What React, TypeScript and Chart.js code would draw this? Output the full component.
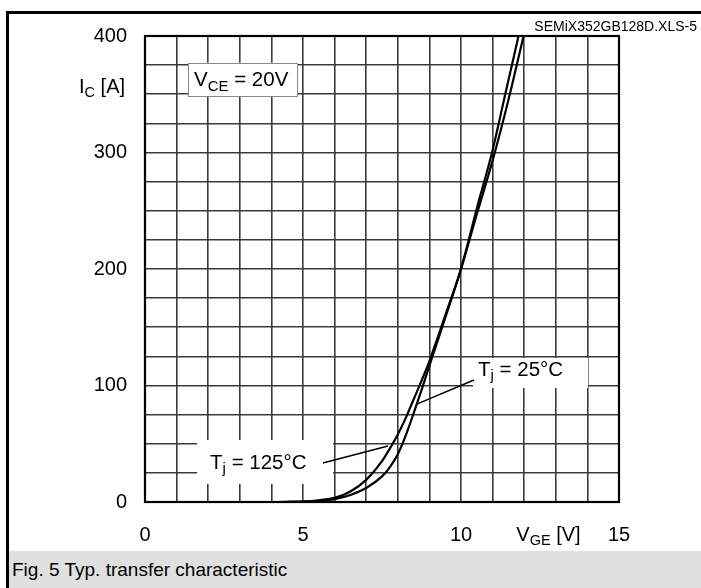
import React, { useEffect, useRef } from "react";
import { Chart, registerables } from "chart.js";

Chart.register(...registerables);

// ---- data ----
const vge25 = [4.4, 5.0, 5.5, 6.0, 6.5, 7.0, 7.5, 7.75, 8.0, 8.25, 8.5, 8.75, 9.0, 9.5, 10.0, 10.5, 11.0, 11.4, 11.82];
const ic25 = [0, 0.3, 1, 2.5, 6, 12, 22, 30, 41, 57, 76, 96, 117, 158, 200, 252, 302, 350, 400];
const vge125 = [4.2, 5.0, 5.5, 6.0, 6.5, 7.0, 7.5, 7.75, 8.0, 8.25, 8.5, 8.75, 9.0, 9.5, 10.0, 10.5, 11.0, 11.5, 11.98];
const ic125 = [0, 0.5, 1.5, 3.5, 9, 19, 35, 46, 58, 72, 88, 104, 121, 160, 200, 247, 293, 345, 400];
const xTickLabels = [0, 5, 10, 15];
const yTickLabels = [0, 100, 200, 300, 400];
const xRange = [0, 15];
const yRange = [0, 400];

const FONT = "'Liberation Sans', Arial, Helvetica, sans-serif";

type Part = { t: string; sub?: boolean };

const annotations = [
  {
    box: [1.36, 4.81, 348.5, 377],
    boxBorder: true,
    text: [{ t: "V" }, { t: "CE", sub: true }, { t: " = 20V" }] as Part[],
    textAt: [1.55, 362],
    leader: null as null | number[],
  },
  {
    box: [10.38, 14.02, 97.9, 123.6],
    boxBorder: false,
    text: [{ t: "T" }, { t: "j", sub: true }, { t: " = 25°C" }] as Part[],
    textAt: [10.54, 113.3],
    leader: [10.41, 104.7, 8.6, 84],
  },
  {
    box: [1.65, 5.95, 15.5, 53.2],
    boxBorder: false,
    text: [{ t: "T" }, { t: "j", sub: true }, { t: " = 125°C" }] as Part[],
    textAt: [2.06, 33.5],
    leader: [5.63, 33.5, 7.69, 48],
  },
];

function drawParts(ctx: CanvasRenderingContext2D, parts: Part[], x: number, y: number, size: number, subSize: number) {
  let cx = x;
  ctx.textAlign = "left";
  ctx.textBaseline = "middle";
  ctx.fillStyle = "#000";
  for (const p of parts) {
    ctx.font = `${p.sub ? subSize : size}px ${FONT}`;
    ctx.fillText(p.t, cx, p.sub ? y + size * 0.3 : y);
    cx += ctx.measureText(p.t).width;
  }
}

const annotationPlugin = {
  id: "annots",
  beforeDatasetsDraw(chart: any) {
    const ctx: CanvasRenderingContext2D = chart.ctx;
    const xs = chart.scales.x;
    const ys = chart.scales.y;
    ctx.save();
    for (const a of annotations) {
      const x0 = xs.getPixelForValue(a.box[0]);
      const x1 = xs.getPixelForValue(a.box[1]);
      const y0 = ys.getPixelForValue(a.box[3]);
      const y1 = ys.getPixelForValue(a.box[2]);
      ctx.fillStyle = "#fff";
      ctx.fillRect(x0, y0, x1 - x0, y1 - y0);
      if (a.boxBorder) {
        ctx.strokeStyle = "#8a8a8a";
        ctx.lineWidth = 1;
        ctx.strokeRect(Math.round(x0) + 0.5, Math.round(y0) + 0.5, Math.round(x1 - x0), Math.round(y1 - y0));
      }
      drawParts(ctx, a.text, xs.getPixelForValue(a.textAt[0]), ys.getPixelForValue(a.textAt[1]), 20.5, 15);
      if (a.leader) {
        ctx.strokeStyle = "#000";
        ctx.lineWidth = 1.5;
        ctx.beginPath();
        ctx.moveTo(xs.getPixelForValue(a.leader[0]), ys.getPixelForValue(a.leader[1]));
        ctx.lineTo(xs.getPixelForValue(a.leader[2]), ys.getPixelForValue(a.leader[3]));
        ctx.stroke();
      }
    }
    // axis titles
    drawParts(ctx, [{ t: "I" }, { t: "C", sub: true }, { t: " [A]" }], xs.left - 66, ys.getPixelForValue(356), 20, 14.5);
    drawParts(ctx, [{ t: "V" }, { t: "GE", sub: true }, { t: " [V]" }], xs.getPixelForValue(11.75), ys.bottom + 33, 20, 14.5);
    ctx.restore();
  },
  afterDraw(chart: any) {
    const { ctx, chartArea } = chart;
    ctx.save();
    ctx.strokeStyle = "#000";
    ctx.lineWidth = 2.2;
    ctx.strokeRect(chartArea.left, chartArea.top, chartArea.right - chartArea.left, chartArea.bottom - chartArea.top);
    ctx.restore();
  },
};

export default function App() {
  const ref = useRef<HTMLCanvasElement>(null);

  useEffect(() => {
    const canvas = ref.current;
    if (!canvas) return;
    const chart = new Chart(canvas, {
      type: "scatter",
      data: {
        datasets: [
          {
            label: "Tj = 25°C",
            data: vge25.map((v, i) => ({ x: v, y: ic25[i] })),
            showLine: true,
            borderColor: "#000",
            borderWidth: 2.2,
            pointRadius: 0,
            cubicInterpolationMode: "monotone",
          },
          {
            label: "Tj = 125°C",
            data: vge125.map((v, i) => ({ x: v, y: ic125[i] })),
            showLine: true,
            borderColor: "#000",
            borderWidth: 2.2,
            pointRadius: 0,
            cubicInterpolationMode: "monotone",
          },
        ],
      },
      options: {
        animation: false,
        responsive: false,
        devicePixelRatio: 1,
        layout: { padding: { left: 0, top: 36, right: 82, bottom: 0 } },
        plugins: { legend: { display: false }, tooltip: { enabled: false } },
        scales: {
          x: {
            type: "linear",
            min: xRange[0],
            max: xRange[1],
            afterFit: (s: any) => { s.height = 86; },
            grid: { color: "#3a3a3a", lineWidth: 1.6, drawTicks: false, tickLength: 0 },
            border: { display: true, color: "#000", width: 2 },
            ticks: {
              stepSize: 1,
              autoSkip: false,
              maxRotation: 0,
              padding: 21,
              color: "#000",
              font: { family: FONT, size: 20 },
              callback: (v: any) => (xTickLabels.includes(Number(v)) ? String(v) : ""),
            },
          },
          y: {
            type: "linear",
            min: yRange[0],
            max: yRange[1],
            afterFit: (s: any) => { s.width = 145; },
            grid: { color: "#3a3a3a", lineWidth: 1.6, drawTicks: false, tickLength: 0 },
            border: { display: true, color: "#000", width: 2 },
            ticks: {
              stepSize: 25,
              autoSkip: false,
              padding: 18,
              color: "#000",
              font: { family: FONT, size: 20 },
              callback: (v: any) => (yTickLabels.includes(Number(v)) ? String(v) : ""),
            },
          },
        },
      } as any,
      plugins: [annotationPlugin],
    });
    return () => chart.destroy();
  }, []);

  return (
    <div style={{ position: "absolute", left: 0, top: 0, width: 701, height: 588, background: "#fff", overflow: "hidden", fontFamily: FONT }}>
      <canvas ref={ref} width={701} height={588} style={{ position: "absolute", left: 0, top: 0 }} />
      <div style={{ position: "absolute", left: 6, top: 11, width: 3, height: 577, background: "#000" }} />
      <div style={{ position: "absolute", left: 6, top: 11, width: 695, height: 3, background: "#000" }} />
      <div
        style={{
          position: "absolute",
          right: 4,
          top: 19,
          fontSize: 14,
          lineHeight: "15px",
          color: "#000",
        }}
      >
        SEMiX352GB128D.XLS-5
      </div>
      <div
        style={{
          position: "absolute",
          left: 9,
          top: 551,
          width: 692,
          height: 37,
          background: "#e0e0e0",
          display: "flex",
          alignItems: "center",
        }}
      >
        <span style={{ marginLeft: 3, fontSize: 19, color: "#000" }}>Fig. 5 Typ. transfer characteristic</span>
      </div>
    </div>
  );
}
